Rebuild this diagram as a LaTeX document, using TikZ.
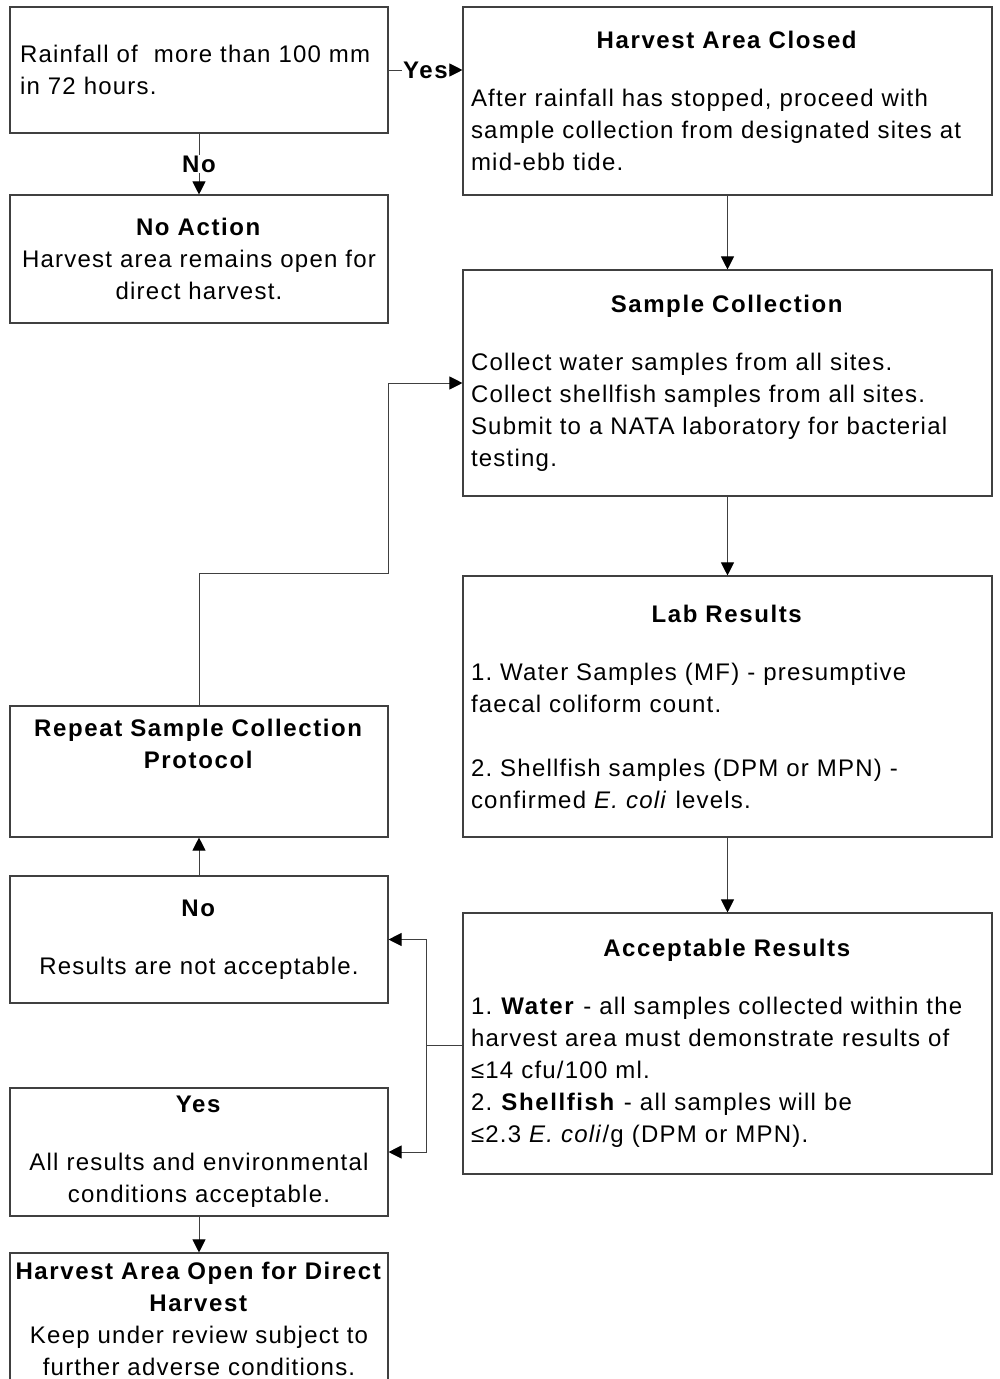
\documentclass[tikz,border=0pt]{standalone}
\usepackage{fontspec}
\setmainfont{Liberation Sans}[LetterSpace=5.1, BoldFeatures={LetterSpace=6.7}]
\usetikzlibrary{arrows.meta}
\frenchspacing

\tikzset{
  box/.style={draw=black!75, line width=1.1pt, rectangle, minimum width=378pt,
    text width=370pt, inner xsep=4pt, inner ysep=4pt, align=center},
  widebox/.style={draw=black!75, line width=1.1pt, rectangle, minimum width=529pt,
    text width=513pt, inner xsep=8pt, inner ysep=4pt, align=left},
  arrow/.style={line width=1pt, draw=black!75, -{Triangle[length=13pt,width=13pt,fill=black,color=black]}},
  tag/.style={fill=white, inner sep=1pt, font=\fontsize{24pt}{32pt}\selectfont\bfseries},
}
\newcommand{\boxtitle}[1]{\makebox[513pt]{\textbf{#1}}}

\begin{document}
\begin{tikzpicture}[x=1pt, y=-1pt, font=\fontsize{24pt}{32pt}\selectfont]

      \useasboundingbox (0,0) rectangle (999,1379);

      % Left column
      \node[box, align=left, text width=358pt, inner xsep=10pt, minimum height=126pt] (rain) at (199,70)
        {Rainfall of~ more than 100 mm\\in 72 hours.};
      \node[box, minimum height=128pt] (noaction) at (199,259)
        {\textbf{No Action}\\Harvest area remains open for\\direct harvest.};
      \node[box, minimum height=131pt] (repeat) at (199,771.5)
        {\textbf{Repeat Sample Collection}\\\textbf{Protocol}\\[13pt]\strut};
      \node[box, minimum height=127pt] (notok) at (199,939.5)
        {\textbf{No}\\[26pt]Results are not acceptable.};
      \node[box, minimum height=128pt] (allok) at (199,1152)
        {\textbf{Yes}\\[26pt]All results and environmental\\conditions acceptable.};
      \node[box, minimum height=132pt] (open) at (199,1319)
        {\textbf{Harvest Area Open for Direct}\\\textbf{Harvest}\\Keep under review subject to\\further adverse conditions.};

      % Right column
      \node[widebox, minimum height=188pt] (closed) at (727.5,101)
        {\boxtitle{Harvest Area Closed}\\[26pt]After rainfall has stopped, proceed with\\sample collection from designated sites at\\mid-ebb tide.};
      \node[widebox, minimum height=226pt] (sample) at (727.5,383)
        {\boxtitle{Sample Collection}\\[26pt]Collect water samples from all sites.\\Collect shellfish samples from all sites.\\Submit to a NATA laboratory for bacterial\\testing.};
      \node[widebox, minimum height=261pt] (lab) at (727.5,706.5)
        {\boxtitle{Lab Results}\\[26pt]1. Water Samples (MF) - presumptive\\faecal coliform count.\\[32pt]2. Shellfish samples (DPM or MPN) -\\confirmed \textit{E. coli} levels.};
      \node[widebox, minimum height=261pt] (accept) at (727.5,1043.5)
        {\boxtitle{Acceptable Results}\\[26pt]1. \textbf{Water} - all samples collected within the\\harvest area must demonstrate results of\\≤14 cfu/100 ml.\\2. \textbf{Shellfish} - all samples will be\\≤2.3 \textit{E. coli}/g (DPM or MPN).};

      % Decision on rainfall
      \draw[arrow] (rain.east) -- node[tag] {Yes} (rain.east -| closed.west);
      \draw[arrow] (rain.south) -- node[tag] {No} (noaction.north);

      % Main sequence
      \draw[arrow] (closed.south) -- (sample.north);
      \draw[arrow] (sample.south) -- (lab.north);
      \draw[arrow] (lab.south) -- (accept.north);

      % Split of the results
      \coordinate (split) at (426,1045);
      \draw[line width=1pt, draw=black!75] (accept.west |- split) -- (split);
      \draw[arrow] (split) |- (notok.east);
      \draw[arrow] (split) |- (allok.east);

      % Repeat loop
      \coordinate (bend) at (388,573);
      \draw[arrow] (notok.north) -- (repeat.south);
      \draw[arrow] (repeat.north) |- (bend) |- (sample.west);
      \draw[arrow] (allok.south) -- (open.north);

\end{tikzpicture}
\end{document}
